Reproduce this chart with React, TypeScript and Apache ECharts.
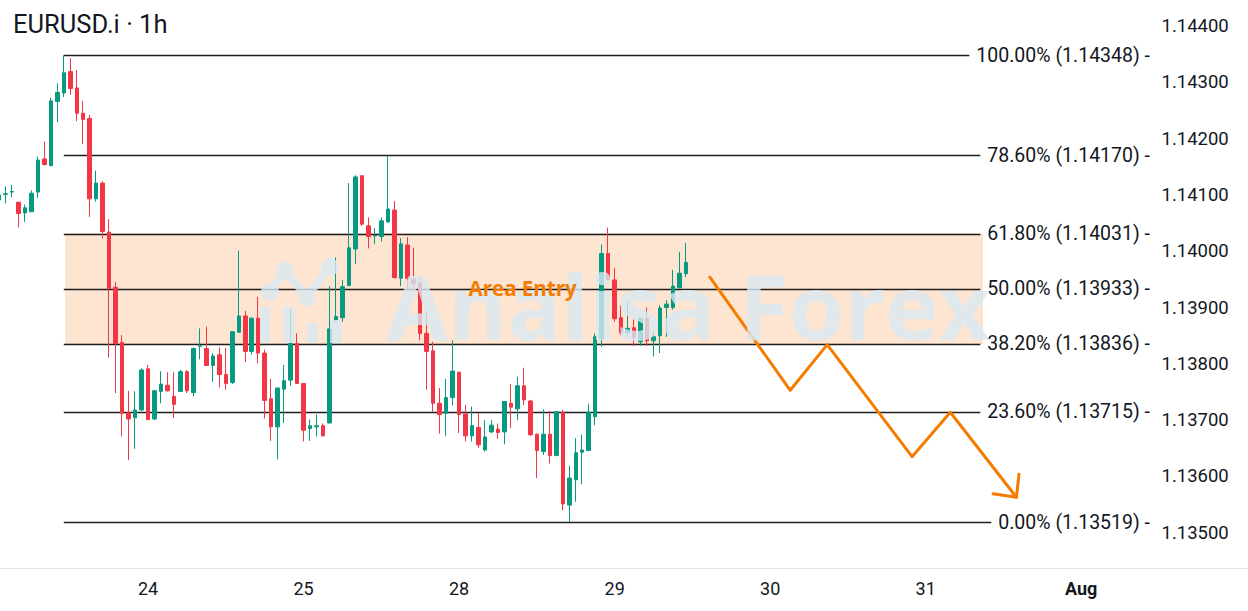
import React, { useEffect, useRef } from 'react';
import * as echarts from 'echarts';

// ---------- data ----------
const TITLE = 'EURUSD.i · 1h';
const SLOT_COUNT = 179; // hourly slots shown on the time axis (incl. future space)
const FIRST_SLOT_UTC = Date.UTC(2025, 6, 23, 1);
const MONTH_NAMES = ['Jan', 'Feb', 'Mar', 'Apr', 'May', 'Jun', 'Jul', 'Aug', 'Sep', 'Oct', 'Nov', 'Dec'];

// [open, close, low, high]
const CANDLES: number[][] = [
  [1.14091, 1.14100, 1.14087, 1.14103],
  [1.14101, 1.14102, 1.14085, 1.14115],
  [1.14105, 1.14106, 1.14096, 1.14118],
  [1.14087, 1.14067, 1.14042, 1.14088],
  [1.14068, 1.14077, 1.14052, 1.14083],
  [1.14070, 1.14103, 1.14070, 1.14108],
  [1.14105, 1.14162, 1.14095, 1.14168],
  [1.14164, 1.14154, 1.14152, 1.14195],
  [1.14152, 1.14267, 1.14151, 1.14272],
  [1.14266, 1.14282, 1.14229, 1.14298],
  [1.14281, 1.14317, 1.14274, 1.14348],
  [1.14319, 1.14289, 1.14278, 1.14343],
  [1.14290, 1.14245, 1.14231, 1.14322],
  [1.14245, 1.14234, 1.14190, 1.14267],
  [1.14236, 1.14093, 1.14061, 1.14242],
  [1.14093, 1.14121, 1.14088, 1.14143],
  [1.14121, 1.14035, 1.14023, 1.14124],
  [1.14034, 1.13934, 1.13811, 1.14057],
  [1.13936, 1.13836, 1.13748, 1.13945],
  [1.13838, 1.13712, 1.13671, 1.13851],
  [1.13713, 1.13702, 1.13629, 1.13752],
  [1.13704, 1.13718, 1.13649, 1.13751],
  [1.13718, 1.13789, 1.13716, 1.13792],
  [1.13791, 1.13701, 1.13700, 1.13798],
  [1.13702, 1.13752, 1.13700, 1.13754],
  [1.13751, 1.13764, 1.13730, 1.13787],
  [1.13762, 1.13752, 1.13751, 1.13785],
  [1.13742, 1.13728, 1.13704, 1.13785],
  [1.13751, 1.13786, 1.13750, 1.13789],
  [1.13786, 1.13752, 1.13748, 1.13789],
  [1.13749, 1.13827, 1.13742, 1.13829],
  [1.13831, 1.13832, 1.13808, 1.13863],
  [1.13827, 1.13797, 1.13796, 1.13866],
  [1.13797, 1.13814, 1.13768, 1.13819],
  [1.13816, 1.13781, 1.13758, 1.13829],
  [1.13781, 1.13765, 1.13754, 1.13828],
  [1.13767, 1.13857, 1.13764, 1.13858],
  [1.13856, 1.13885, 1.13855, 1.14001],
  [1.13885, 1.13822, 1.13803, 1.13894],
  [1.13822, 1.13881, 1.13816, 1.13882],
  [1.13881, 1.13819, 1.13801, 1.13919],
  [1.13819, 1.13735, 1.13703, 1.13825],
  [1.13738, 1.13688, 1.13663, 1.13773],
  [1.13688, 1.13757, 1.13630, 1.13758],
  [1.13755, 1.13770, 1.13695, 1.13798],
  [1.13771, 1.13836, 1.13761, 1.13897],
  [1.13836, 1.13765, 1.13764, 1.13854],
  [1.13765, 1.13682, 1.13662, 1.13766],
  [1.13685, 1.13690, 1.13663, 1.13701],
  [1.13688, 1.13690, 1.13671, 1.13710],
  [1.13690, 1.13672, 1.13671, 1.13694],
  [1.13695, 1.13862, 1.13694, 1.13938],
  [1.13878, 1.13884, 1.13875, 1.13989],
  [1.13882, 1.13937, 1.13875, 1.13949],
  [1.13939, 1.14006, 1.13938, 1.14121],
  [1.14004, 1.14132, 1.13977, 1.14135],
  [1.14134, 1.14048, 1.14045, 1.14135],
  [1.14045, 1.14026, 1.14005, 1.14060],
  [1.14027, 1.14028, 1.14013, 1.14041],
  [1.14026, 1.14054, 1.14017, 1.14060],
  [1.14052, 1.14075, 1.14051, 1.14170],
  [1.14073, 1.13953, 1.13952, 1.14089],
  [1.13952, 1.14013, 1.13938, 1.14023],
  [1.14011, 1.13952, 1.13928, 1.14025],
  [1.13950, 1.13943, 1.13928, 1.14006],
  [1.13943, 1.13854, 1.13842, 1.13952],
  [1.13854, 1.13822, 1.13754, 1.13893],
  [1.13823, 1.13730, 1.13715, 1.13839],
  [1.13730, 1.13710, 1.13676, 1.13757],
  [1.13712, 1.13740, 1.13672, 1.13773],
  [1.13740, 1.13787, 1.13726, 1.13842],
  [1.13785, 1.13710, 1.13677, 1.13786],
  [1.13711, 1.13672, 1.13662, 1.13727],
  [1.13672, 1.13690, 1.13662, 1.13724],
  [1.13687, 1.13656, 1.13651, 1.13712],
  [1.13647, 1.13670, 1.13644, 1.13700],
  [1.13679, 1.13691, 1.13677, 1.13700],
  [1.13684, 1.13678, 1.13667, 1.13694],
  [1.13679, 1.13733, 1.13657, 1.13734],
  [1.13730, 1.13723, 1.13686, 1.13764],
  [1.13720, 1.13761, 1.13700, 1.13777],
  [1.13761, 1.13736, 1.13727, 1.13793],
  [1.13734, 1.13674, 1.13672, 1.13736],
  [1.13675, 1.13646, 1.13597, 1.13676],
  [1.13644, 1.13675, 1.13638, 1.13719],
  [1.13675, 1.13637, 1.13623, 1.13716],
  [1.13637, 1.13715, 1.13636, 1.13716],
  [1.13714, 1.13551, 1.13540, 1.13718],
  [1.13549, 1.13597, 1.13519, 1.13619],
  [1.13594, 1.13642, 1.13555, 1.13668],
  [1.13643, 1.13647, 1.13586, 1.13674],
  [1.13646, 1.13714, 1.13645, 1.13729],
  [1.13706, 1.13848, 1.13691, 1.13854],
  [1.13845, 1.13996, 1.13830, 1.14012],
  [1.13996, 1.13949, 1.13948, 1.14042],
  [1.13949, 1.13880, 1.13875, 1.13970],
  [1.13882, 1.13855, 1.13851, 1.13904],
  [1.13855, 1.13863, 1.13848, 1.13910],
  [1.13864, 1.13847, 1.13832, 1.13879],
  [1.13839, 1.13881, 1.13832, 1.13882],
  [1.13881, 1.13841, 1.13832, 1.13900],
  [1.13841, 1.13848, 1.13813, 1.13857],
  [1.13850, 1.13899, 1.13819, 1.13904],
  [1.13900, 1.13906, 1.13848, 1.13913],
  [1.13900, 1.13938, 1.13896, 1.13967],
  [1.13935, 1.13961, 1.13934, 1.13999],
  [1.13960, 1.13980, 1.13954, 1.14015],
];

const FIB_RATIOS = ['100.00%', '78.60%', '61.80%', '50.00%', '38.20%', '23.60%', '0.00%'];
const FIB_PRICES = [1.14348, 1.1417, 1.14031, 1.13933, 1.13836, 1.13715, 1.13519];
const FIB_START_INDEX = 10; // swing-high candle
const ZONE_LEVELS = [2, 4]; // 61.8% .. 38.2%
const AREA_LABEL = 'Area Entry';
const AREA_LABEL_POS = [80.8, 1.13933];

// projected zig-zag path [slot index, price]
const ARROW_PATH = [
  [109.7, 1.13954],
  [122.1, 1.13753],
  [127.8, 1.13834],
  [140.9, 1.13635],
  [146.8, 1.13714],
  [157.0, 1.13563],
];
const ARROW_HEAD = [
  [157.4, 1.13604],
  [157.0, 1.13563],
  [153.4, 1.13569],
];

const Y_MIN = 1.134373;
const Y_MAX = 1.144462;
const Y_STEP = 0.001;

const WATERMARK = 'Analisa Forex';

// ---------- helpers ----------
function buildSlots(): string[] {
  const out: string[] = [];
  let t = FIRST_SLOT_UTC;
  const p = (n: number) => String(n).padStart(2, '0');
  while (out.length < SLOT_COUNT) {
    const d = new Date(t);
    const wd = d.getUTCDay();
    if (wd !== 0 && wd !== 6) {
      out.push(`${d.getUTCFullYear()}-${p(d.getUTCMonth() + 1)}-${p(d.getUTCDate())} ${p(d.getUTCHours())}:00`);
    }
    t += 3600000;
  }
  return out;
}
const SLOTS = buildSlots();

let measureCtx: CanvasRenderingContext2D | null = null;
function measure(text: string, font: string): number {
  if (!measureCtx) measureCtx = document.createElement('canvas').getContext('2d');
  if (!measureCtx) return text.length * 9;
  measureCtx.font = font;
  return measureCtx.measureText(text).width;
}

const TEXT_COLOR = '#131722';
const FIB_FONT_SIZE = 19.5;
const FIB_FONT = `${FIB_FONT_SIZE}px Roboto`;
const UP = '#089981';
const DOWN = '#f23645';
const ORANGE = '#f57c00';
const WM_FILL = 'rgba(216, 232, 243, 0.8)';

function fibLabel(i: number) {
  return `${FIB_RATIOS[i]} (${FIB_PRICES[i].toFixed(5)}) -`;
}

function logoPath(): string {
  const parts: string[] = [];
  const rect = (x: number, y: number, w: number, h: number) =>
    parts.push(`M${x} ${y} L${x + w} ${y} L${x + w} ${y + h} L${x} ${y + h} Z`);
  const circle = (cx: number, cy: number, r: number) =>
    parts.push(`M${cx - r} ${cy} A${r} ${r} 0 1 1 ${cx + r} ${cy} A${r} ${r} 0 1 1 ${cx - r} ${cy} Z`);
  const seg = (a: number[], b: number[], hw: number) => {
    const dx = b[0] - a[0];
    const dy = b[1] - a[1];
    const L = Math.hypot(dx, dy);
    const nx = (-dy / L) * hw;
    const ny = (dx / L) * hw;
    let pts = [
      [a[0] + nx, a[1] + ny],
      [b[0] + nx, b[1] + ny],
      [b[0] - nx, b[1] - ny],
      [a[0] - nx, a[1] - ny],
    ];
    let s = 0;
    for (let i = 0; i < 4; i++) {
      const q = pts[(i + 1) % 4];
      s += pts[i][0] * q[1] - q[0] * pts[i][1];
    }
    if (s < 0) pts = pts.reverse();
    parts.push('M' + pts.map((p) => `${p[0].toFixed(2)} ${p[1].toFixed(2)}`).join(' L') + ' Z');
  };
  rect(260, 307, 10, 36);
  rect(283, 307, 12, 36);
  rect(307, 323, 11, 20);
  rect(330, 320, 12, 23);
  const nodes = [
    [270, 292],
    [285, 271],
    [307, 297],
    [330, 267],
  ];
  for (let i = 0; i < nodes.length - 1; i++) seg(nodes[i], nodes[i + 1], 3.8);
  nodes.forEach((n) => circle(n[0], n[1], 9));
  return parts.join(' ');
}

let logoRegistered = false;

export default function App() {
  const ref = useRef<HTMLDivElement>(null);

  useEffect(() => {
    document.body.style.margin = '0';
    if (!logoRegistered) {
      echarts.graphic.registerShape('wmLogo', echarts.graphic.extendPath(logoPath(), {}) as any);
      logoRegistered = true;
    }
    const chart = echarts.init(ref.current as HTMLDivElement, undefined, { renderer: 'svg' });

    const lineEndFor = (i: number, right: number) => right - measure(fibLabel(i), FIB_FONT) - 7;

    const option: any = {
      animation: false,
      backgroundColor: '#ffffff',
      grid: { left: -1, right: 95.5, top: 0, bottom: 43, outerBoundsMode: 'none', containLabel: false },
      xAxis: [
        {
          type: 'category',
          data: SLOTS,
          boundaryGap: false,
          axisLine: { show: true, lineStyle: { color: '#e0e3eb', width: 1 } },
          axisTick: { show: false },
          splitLine: { show: false },
          axisLabel: {
            interval: (_i: number, v: string) => v.endsWith(' 00:00'),
            formatter: (v: string) => {
              if (!v.endsWith(' 00:00')) return '';
              const day = Number(v.slice(8, 10));
              const month = Number(v.slice(5, 7));
              return day === 1 ? `{m|${MONTH_NAMES[month - 1]}}` : String(day);
            },
            color: TEXT_COLOR,
            fontFamily: 'Roboto',
            fontSize: 18,
            margin: 11,
            rich: { m: { fontFamily: 'Roboto', fontSize: 18, fontWeight: 'bold', color: TEXT_COLOR } },
          },
        },
        { type: 'value', min: 0, max: SLOT_COUNT - 1, show: false },
      ],
      yAxis: {
        type: 'value',
        position: 'right',
        min: Y_MIN,
        max: Y_MAX,
        minInterval: Y_STEP,
        maxInterval: Y_STEP,
        splitNumber: 10,
        axisLine: { show: false },
        axisTick: { show: false },
        splitLine: { show: false },
        axisLabel: {
          formatter: (v: number) => v.toFixed(5),
          showMinLabel: false,
          showMaxLabel: false,
          color: TEXT_COLOR,
          fontFamily: 'Roboto',
          fontSize: 18.5,
          margin: 9,
        },
      },
      series: [
        {
          type: 'custom',
          name: 'zone',
          xAxisIndex: 1,
          z: 1,
          silent: true,
          clip: false,
          data: [[FIB_START_INDEX, FIB_PRICES[ZONE_LEVELS[0]], FIB_PRICES[ZONE_LEVELS[1]]]],
          renderItem: (params: any, api: any) => {
            const p1 = api.coord([api.value(0), api.value(1)]);
            const p2 = api.coord([api.value(0), api.value(2)]);
            const right = params.coordSys.x + params.coordSys.width - 2.5;
            const x0 = p1[0] + 2;
            const x1 = lineEndFor(ZONE_LEVELS[0], right) + 2;
            return {
              type: 'rect',
              shape: { x: x0, y: p1[1], width: x1 - x0, height: p2[1] - p1[1] },
              style: { fill: '#fde5d2', stroke: 'rgba(245,160,90,0.25)', lineWidth: 1 },
            };
          },
        },
        {
          type: 'custom',
          name: 'fib',
          xAxisIndex: 1,
          z: 1,
          silent: true,
          clip: false,
          data: FIB_PRICES.map((p) => [FIB_START_INDEX, p]),
          renderItem: (params: any, api: any) => {
            const i = params.dataIndex;
            const pt = api.coord([api.value(0), api.value(1)]);
            const right = params.coordSys.x + params.coordSys.width - 2.5;
            const y = Math.round(pt[1]) + 0.5;
            return {
              type: 'group',
              children: [
                {
                  type: 'line',
                  shape: { x1: pt[0], y1: y, x2: lineEndFor(i, right), y2: y },
                  style: { stroke: '#1e1e1e', lineWidth: 1.4 },
                },
                {
                  type: 'text',
                  x: right,
                  y: pt[1],
                  z2: 300,
                  style: {
                    text: fibLabel(i),
                    fill: TEXT_COLOR,
                    fontSize: FIB_FONT_SIZE,
                    fontFamily: 'Roboto',
                    align: 'right',
                    verticalAlign: 'middle',
                    textAlign: 'right',
                    textVerticalAlign: 'middle',
                  },
                },
              ],
            };
          },
        },
        {
          type: 'candlestick',
          name: 'EURUSD.i',
          xAxisIndex: 0,
          z: 2,
          barWidth: 4,
          data: CANDLES,
          itemStyle: {
            color: UP,
            color0: DOWN,
            borderColor: UP,
            borderColor0: DOWN,
            borderWidth: 1,
          },
        },
        {
          type: 'custom',
          name: 'areaLabel',
          xAxisIndex: 1,
          z: 120,
          silent: true,
          clip: false,
          data: [AREA_LABEL_POS],
          renderItem: (_params: any, api: any) => {
            const pt = api.coord([api.value(0), api.value(1)]);
            return {
              type: 'text',
              x: pt[0],
              y: pt[1] - 1,
              style: {
                text: AREA_LABEL,
                fill: ORANGE,
                fontSize: 20.5,
                fontWeight: 'bold',
                fontFamily: 'Open Sans',
                align: 'center',
                verticalAlign: 'middle',
                textAlign: 'center',
                textVerticalAlign: 'middle',
              },
            };
          },
        },
        {
          type: 'line',
          name: 'projection',
          xAxisIndex: 1,
          z: 4,
          silent: true,
          clip: false,
          symbol: 'none',
          data: ARROW_PATH,
          lineStyle: { color: ORANGE, width: 3, cap: 'round', join: 'round' },
        },
        {
          type: 'line',
          name: 'arrowHead',
          xAxisIndex: 1,
          z: 4,
          silent: true,
          clip: false,
          symbol: 'none',
          data: ARROW_HEAD,
          lineStyle: { color: ORANGE, width: 3, cap: 'round', join: 'round' },
        },
      ],
      graphic: [
        {
          type: 'text',
          x: 13,
          y: 24,
          z: 50,
          style: {
            text: TITLE,
            fill: TEXT_COLOR,
            fontSize: 25.5,
            fontFamily: 'Roboto',
            verticalAlign: 'middle',
            textVerticalAlign: 'middle',
          },
        },
        {
          type: 'line',
          z: 50,
          shape: { x1: 1153, y1: 568.5, x2: 1248, y2: 568.5 },
          style: { stroke: '#e0e3eb', lineWidth: 1 },
        },
        {
          type: 'wmLogo',
          x: 0,
          y: 0,
          z: 100,
          silent: true,
          style: { fill: WM_FILL },
        },
        {
          type: 'text',
          x: 386,
          y: 305,
          z: 100,
          silent: true,
          style: {
            text: WATERMARK,
            fill: WM_FILL,
            fontSize: 90,
            fontWeight: 'bold',
            fontFamily: 'Open Sans',
            verticalAlign: 'middle',
            textVerticalAlign: 'middle',
          },
        },
      ],
    };

    chart.setOption(option);
    return () => chart.dispose();
  }, []);

  return (
    <div
      ref={ref}
      style={{ position: 'fixed', left: 0, top: 0, width: 1248, height: 611, background: '#ffffff' }}
    />
  );
}
